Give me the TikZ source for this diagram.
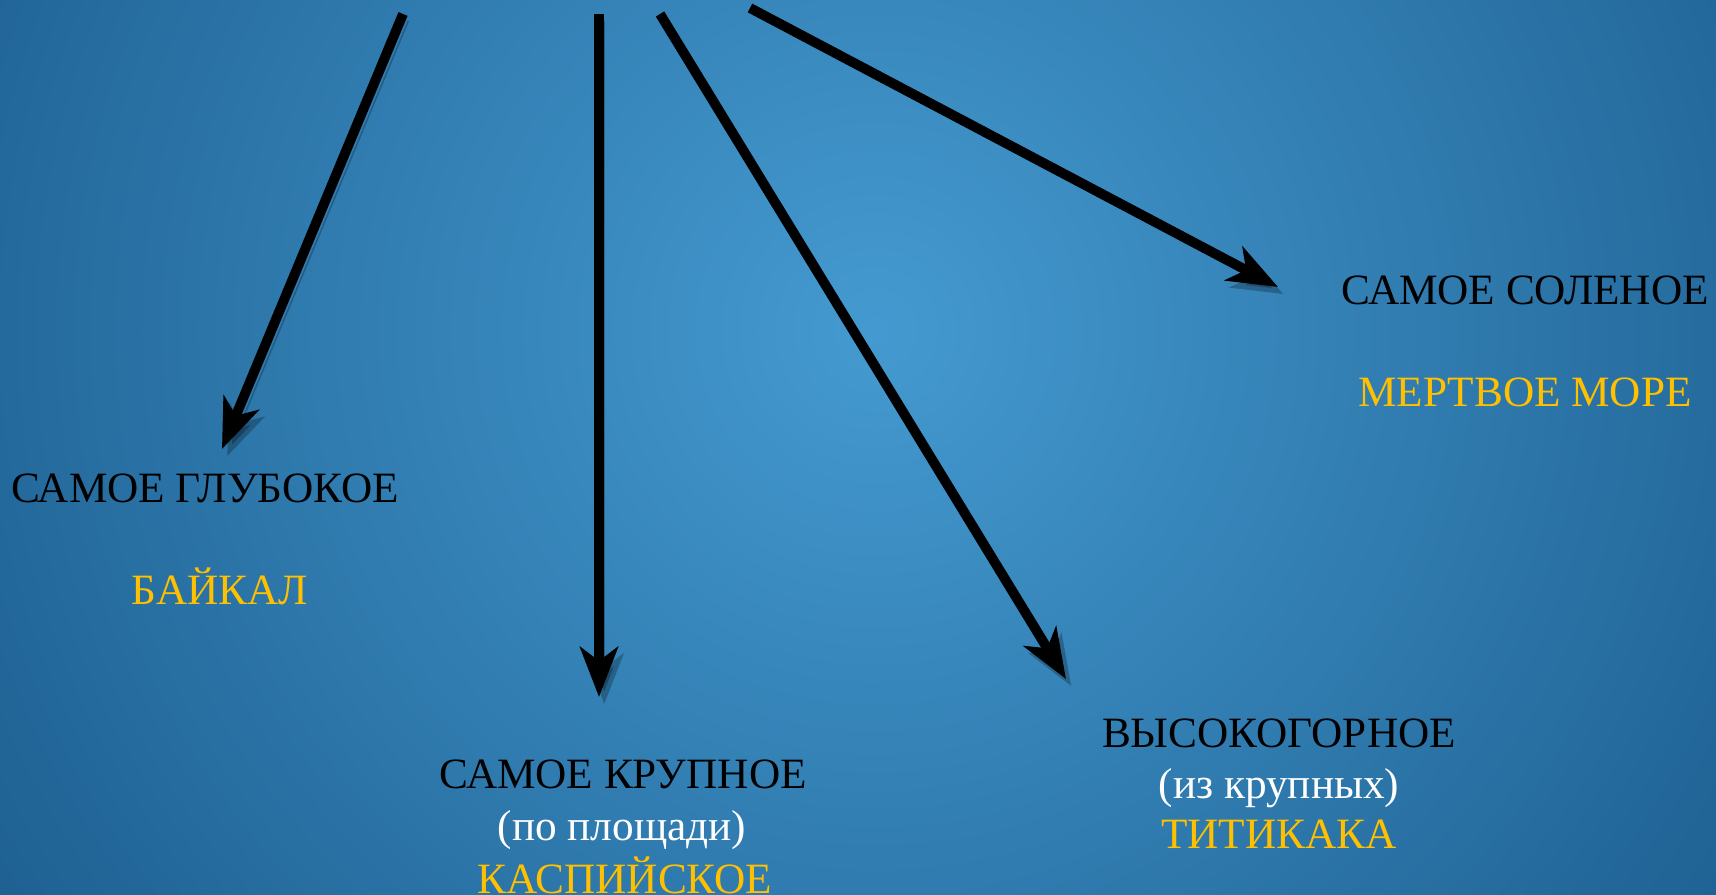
\documentclass[tikz,border=0pt]{standalone}
\usepackage{fontspec}
\setmainfont{Liberation Serif}
\usetikzlibrary{arrows.meta}

\definecolor{bgcentre}{HTML}{449AD0}
\definecolor{bgedge}{HTML}{155283}
\definecolor{lakegold}{HTML}{FFC000}

\begin{document}
\begin{tikzpicture}[
	x=0.01cm, y=-0.01cm,
	font=\fontsize{12.3}{14}\selectfont,
	>={Stealth[length=0.5cm, width=0.38cm, inset=0.14cm]},
	pointer/.style={
		->, line width=2.8pt, black,
		preaction={draw=black, opacity=0.25,
			transform canvas={shift={(1.5pt,-2pt)}}}
	},
	title/.style={anchor=base, inner sep=0pt, text=black},
	note/.style={anchor=base, inner sep=0pt, text=white},
	answer/.style={anchor=base, inner sep=0pt, text=lakegold}
]

\useasboundingbox (0,0) rectangle (1716,895);

% Background, light spot a little above centre
\begin{scope}
	\clip (0,0) rectangle (1716,895);
	\shade[inner color=bgcentre, outer color=bgedge]
		(-425,-970) rectangle (2175,1630);
\end{scope}

% Arrow roots along the top edge
\coordinate (r1) at (403, 14);
\coordinate (r2) at (599, 14);
\coordinate (r3) at (660, 14);
\coordinate (r4) at (750,  8);

% Arrow tips
\coordinate (t1) at (222, 449);
\coordinate (t2) at (599, 697);
\coordinate (t3) at (1066, 679);
\coordinate (t4) at (1278, 287);

% Deepest
\node[title]  (deep)   at (205, 503) {САМОЕ ГЛУБОКОЕ};
\node[answer] (baikal) at (220, 605) {БАЙКАЛ};

% Largest
\node[title]  (large)  at (623, 788) {САМОЕ КРУПНОЕ};
\node[note]   (area)   at (622, 840) {(по площади)};
\node[answer] (caspian) at (625, 893) {КАСПИЙСКОЕ};

% Highest
\node[title]  (high)   at (1279, 747) {ВЫСОКОГОРНОЕ};
\node[note]   (bigone) at (1279, 798) {(из крупных)};
\node[answer] (titi)   at (1279, 848) {ТИТИКАКА};

% Saltiest
\node[title]  (salt)   at (1525, 305) {САМОЕ СОЛЕНОЕ};
\node[answer] (dead)   at (1525, 407) {МЕРТВОЕ МОРЕ};

\draw[pointer] (r1) -- (t1);
\draw[pointer] (r2) -- (t2);
\draw[pointer] (r3) -- (t3);
\draw[pointer] (r4) -- (t4);

\end{tikzpicture}
\end{document}
